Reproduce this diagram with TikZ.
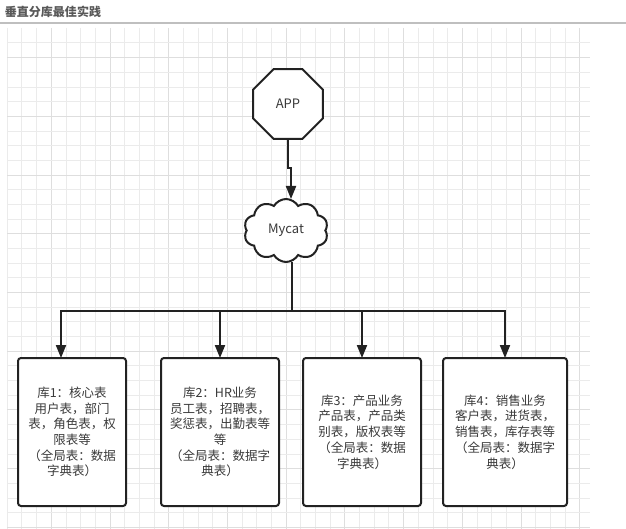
\documentclass[tikz,border=0pt]{standalone}
\usepackage{fontspec}
\setmainfont{Noto Sans CJK SC}
\usetikzlibrary{shapes.symbols,shapes.geometric,arrows.meta}
\definecolor{gridminor}{HTML}{EBEBEB}
\definecolor{gridmajor}{HTML}{DEDEDE}
\definecolor{ink}{HTML}{222222}
\definecolor{txt}{HTML}{3A3A3A}
\begin{document}
\begin{tikzpicture}[x=1pt,y=-1pt,
  every node/.style={inner sep=0pt, outer sep=0pt},
  dbbox/.style={draw=ink, line width=2pt, rounded corners=3pt, fill=white, text=txt,
    align=center, minimum height=148pt, font=\fontsize{12.5}{15.7}\selectfont},
  conn/.style={draw=ink, line width=2pt},
  arr/.style={conn, -{Triangle[length=13pt,width=10pt]}},
]
\useasboundingbox (0,0) rectangle (626,529);
\fill[white] (0,0) rectangle (626,529);
% grid
\foreach \k in {0,...,39}{
  \pgfmathtruncatemacro{\m}{mod(\k,4)}
  \ifnum\m=3
    \draw[gridmajor, line width=1pt] ({7.3+\k*14.68},28) -- ({7.3+\k*14.68},529);
  \else
    \draw[gridminor, line width=1pt] ({7.3+\k*14.68},28) -- ({7.3+\k*14.68},529);
  \fi
}
\foreach \k in {1,...,34}{
  \pgfmathtruncatemacro{\m}{mod(\k,4)}
  \ifnum\m=2
    \draw[gridmajor, line width=1pt] (7,{28.3+\k*14.68}) -- (590,{28.3+\k*14.68});
  \else
    \draw[gridminor, line width=1pt] (7,{28.3+\k*14.68}) -- (590,{28.3+\k*14.68});
  \fi
}
% title
\node[anchor=west, font=\fontsize{12}{14}\selectfont\bfseries, text=black!65] (title) at (5,12) {垂直分库最佳实践};
\draw[color=black!25, line width=1.5pt] (0,23) -- (626,23);
% nodes
\node[regular polygon, regular polygon sides=8, minimum size=75.5pt, draw=ink, line width=2pt,
  fill=white, text=txt, font=\fontsize{13}{15}\selectfont] (app) at (288,104) {APP};
\node[cloud, cloud puffs=10, cloud puff arc=120, aspect=1.3, minimum width=84pt, minimum height=63pt,
  draw=ink, line width=2pt, fill=white, text=txt, font=\fontsize{13}{15}\selectfont] (mycat) at (286,230.5) {Mycat};
\node[dbbox, minimum width=108pt] (db1) at (72,432) {库1：核心表\\用户表，部门\\表，角色表，权\\限表等\\（全局表：数据\\字典表）};
\node[dbbox, minimum width=118pt] (db2) at (220,432) {库2：HR业务\\员工表，招聘表，\\奖惩表，出勤表等\\等\\（全局表：数据字\\典表）};
\node[dbbox, minimum width=118pt] (db3) at (362,432) {库3：产品业务\\产品表，产品类\\别表，版权表等\\（全局表：数据\\字典表）};
\node[dbbox, minimum width=124pt] (db4) at (505,432) {库4：销售业务\\客户表，进货表，\\销售表，库存表等\\（全局表：数据字\\典表）};
% connectors
\draw[arr] (app.south) -- ++(0,29) -| ([xshift=5pt]mycat.north);
\coordinate (bus) at (292,311);
\draw[conn] ([xshift=6pt]mycat.south) -- (bus);
\draw[arr] (bus) -| ([xshift=-11pt]db1.north);
\draw[arr] (bus) -| (db2.north);
\draw[arr] (bus) -| (db3.north);
\draw[arr] (bus) -| (db4.north);
\end{tikzpicture}
\end{document}
